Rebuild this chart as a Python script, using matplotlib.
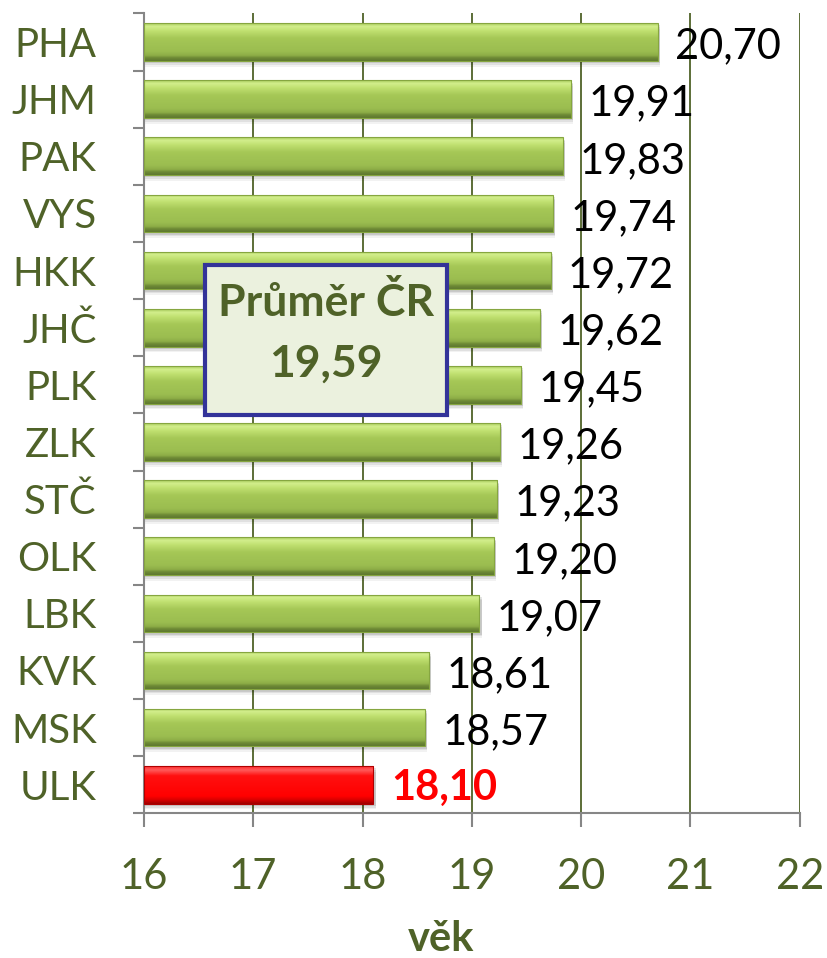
import numpy as np
import matplotlib.pyplot as plt
from matplotlib.colors import LinearSegmentedColormap
from matplotlib.patches import Rectangle

plt.rcParams['font.family'] = ['Lato', 'DejaVu Sans']

regions = ['PHA', 'JHM', 'PAK', 'VYS', 'HKK', 'JHČ', 'PLK', 'ZLK', 'STČ', 'OLK', 'LBK', 'KVK', 'MSK', 'ULK']
values = [20.70, 19.91, 19.83, 19.74, 19.72, 19.62, 19.45, 19.26, 19.23, 19.20, 19.07, 18.61, 18.57, 18.10]
highlight = 'ULK'
average = 19.59

olive = '#4F6228'
# colour ramps from top of the bar to its bottom
green_cmap = LinearSegmentedColormap.from_list('g', [
    (0.0, '#A8CB5C'), (0.08, '#D2EE8C'), (0.2, '#C0E070'), (0.4, '#A5C756'),
    (0.75, '#9BBD50'), (0.86, '#8DAD47'), (0.92, '#6F8B36'), (1.0, '#5E7830')])
red_cmap = LinearSegmentedColormap.from_list('r', [
    (0.0, '#FF3030'), (0.1, '#FF5A5A'), (0.25, '#FF1010'), (0.8, '#FF0000'),
    (0.9, '#D80000'), (1.0, '#A00000')])

fig = plt.figure(figsize=(8.27, 9.58), dpi=100)
ax = fig.add_axes([0.174, 0.151, 0.793, 0.835])

y = np.arange(len(regions))
h = 0.66
grad = np.linspace(0, 1, 64).reshape(-1, 1)

ax.set_xlim(16, 22)
ax.set_ylim(len(regions) - 0.5, -0.5)

for i, (name, v) in enumerate(zip(regions, values)):
    # soft shadow under each bar
    for k, a in enumerate([0.10, 0.07, 0.05]):
        ax.barh(i + 0.04 + 0.03 * k, v - 16 + 0.02, left=16, height=h, color='#000000',
                alpha=a, linewidth=0, zorder=2)
    bar = ax.barh(i, v - 16, left=16, height=h, color='none', zorder=3)[0]
    cmap = red_cmap if name == highlight else green_cmap
    im = ax.imshow(grad, cmap=cmap, aspect='auto', origin='upper',
                   extent=[16, v, i + h / 2, i - h / 2], zorder=3)
    im.set_clip_path(bar)
    edge = '#B00000' if name == highlight else '#86A640'
    ax.barh(i, v - 16, left=16, height=h, color='none', edgecolor=edge, linewidth=0.8, zorder=4)
    label = f'{v:.2f}'.replace('.', ',')
    if name == highlight:
        ax.text(v + 0.16, i + 0.05, label, va='center', ha='left', fontsize=30,
                fontweight='bold', color='#FF0000', zorder=5)
    else:
        ax.text(v + 0.16, i + 0.08, label, va='center', ha='left', fontsize=30,
                color='black', zorder=5)

ax.set_xticks(range(16, 23))
ax.set_xticklabels([str(t) for t in range(16, 23)], fontsize=30, color=olive)
ax.set_yticks(y)
ax.set_yticklabels(regions, fontsize=29, color=olive)
ax.set_yticks(np.arange(-0.5, len(regions), 1), minor=True)
ax.tick_params(axis='y', which='major', length=0, pad=34)
ax.tick_params(axis='y', which='minor', length=8, color='#868686', width=1.5)
ax.tick_params(axis='x', length=10, color='#868686', width=1.5, pad=22)

for t in range(17, 23):
    ax.axvline(t, color=olive, linewidth=1.3, zorder=1)
for s in ['top', 'right']:
    ax.spines[s].set_visible(False)
for s in ['left', 'bottom']:
    ax.spines[s].set_color('#868686')
    ax.spines[s].set_linewidth(1.5)

ax.set_xlabel('věk', fontsize=30, fontweight='bold', color=olive)
ax.xaxis.set_label_coords(0.453, -0.133)

# average box
ax.add_patch(Rectangle((0.093, 0.4975), 0.369, 0.1875, transform=ax.transAxes,
                       facecolor='#EBF1DE', edgecolor='#333399', linewidth=3, zorder=6))
ax.text(0.2775, 0.639, 'Průměr ČR', transform=ax.transAxes, ha='center', va='center',
        fontsize=32, fontweight='bold', color=olive, zorder=7)
ax.text(0.2775, 0.562, f'{average:.2f}'.replace('.', ','), transform=ax.transAxes,
        ha='center', va='center', fontsize=32, fontweight='bold', color=olive, zorder=7)

fig.savefig('out.png', dpi=100)
